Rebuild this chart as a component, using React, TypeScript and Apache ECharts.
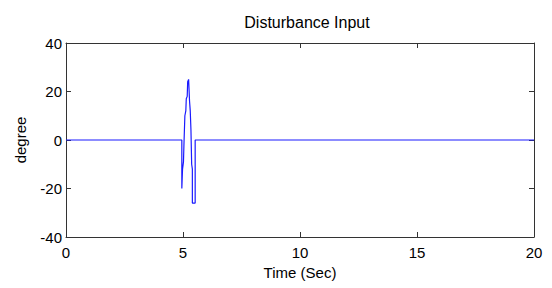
import React, { useEffect, useRef } from "react";
import * as echarts from "echarts";

const titleText = "Disturbance Input";
const xName = "Time (Sec)";
const yName = "degree";

const timeSec = [0, 4.95, 4.95, 4.98, 5.02, 5.04, 5.06, 5.08, 5.12, 5.14, 5.18, 5.2, 5.24, 5.26, 5.28, 5.31, 5.34, 5.37, 5.4, 5.4, 5.52, 5.52, 20];
const degree = [0, 0, -20, -12, -9, -2, 4, 10, 12, 17, 18, 24, 25, 25, 16, 12, 4, -10, -12, -26, -26, 0, 0];

const xTicks = [0, 5, 10, 15, 20];
const yTicks = [-40, -20, 0, 20, 40];

export default function App() {
  const ref = useRef<HTMLDivElement>(null);
  useEffect(() => {
    if (!ref.current) return;
    const chart = echarts.init(ref.current, undefined, { renderer: "svg" });
    const font = "Liberation Sans, Arial, sans-serif";
    const axisLine = { show: true, onZero: false, lineStyle: { color: "#333", width: 1 } };
    const tick = { show: true, inside: true, length: 5, lineStyle: { color: "#333" } };
    chart.setOption({
      animation: false,
      backgroundColor: "#fff",
      title: {
        text: titleText,
        left: 302,
        textAlign: "center",
        top: 9,
        textStyle: { fontFamily: font, fontSize: 16, fontWeight: "normal", color: "#000" },
      },
      grid: { left: 66, right: 18, top: 43, bottom: 51, show: false },
      xAxis: [
        {
          type: "value",
          min: xTicks[0],
          max: xTicks[xTicks.length - 1],
          interval: 5,
          position: "bottom",
          axisLine,
          axisTick: tick,
          splitLine: { show: false },
          axisLabel: { fontFamily: font, fontSize: 15, color: "#000", margin: 8 },
          name: xName,
          nameLocation: "middle",
          nameGap: 28,
          nameTextStyle: { fontFamily: font, fontSize: 15, color: "#000" },
        },
        {
          type: "value",
          min: xTicks[0],
          max: xTicks[xTicks.length - 1],
          interval: 5,
          position: "top",
          axisLine,
          axisTick: tick,
          splitLine: { show: false },
          axisLabel: { show: false },
        },
      ],
      yAxis: [
        {
          type: "value",
          min: yTicks[0],
          max: yTicks[yTicks.length - 1],
          interval: 20,
          position: "left",
          axisLine,
          axisTick: tick,
          splitLine: { show: false },
          axisLabel: { fontFamily: font, fontSize: 15, color: "#000", margin: 4 },
          name: yName,
          nameLocation: "middle",
          nameGap: 38,
          nameRotate: 90,
          nameTextStyle: { fontFamily: font, fontSize: 15, color: "#000" },
        },
        {
          type: "value",
          min: yTicks[0],
          max: yTicks[yTicks.length - 1],
          interval: 20,
          position: "right",
          axisLine,
          axisTick: tick,
          splitLine: { show: false },
          axisLabel: { show: false },
        },
      ],
      series: [
        {
          type: "line",
          data: timeSec.map((t, i) => [t, degree[i]]),
          showSymbol: false,
          symbol: "none",
          lineStyle: { color: "#1a1aff", width: 1.2 },
          xAxisIndex: 0,
          yAxisIndex: 0,
        },
      ],
    });
    return () => chart.dispose();
  }, []);
  return <div ref={ref} style={{ width: 552, height: 288, position: "absolute", left: 0, top: 0 }} />;
}
